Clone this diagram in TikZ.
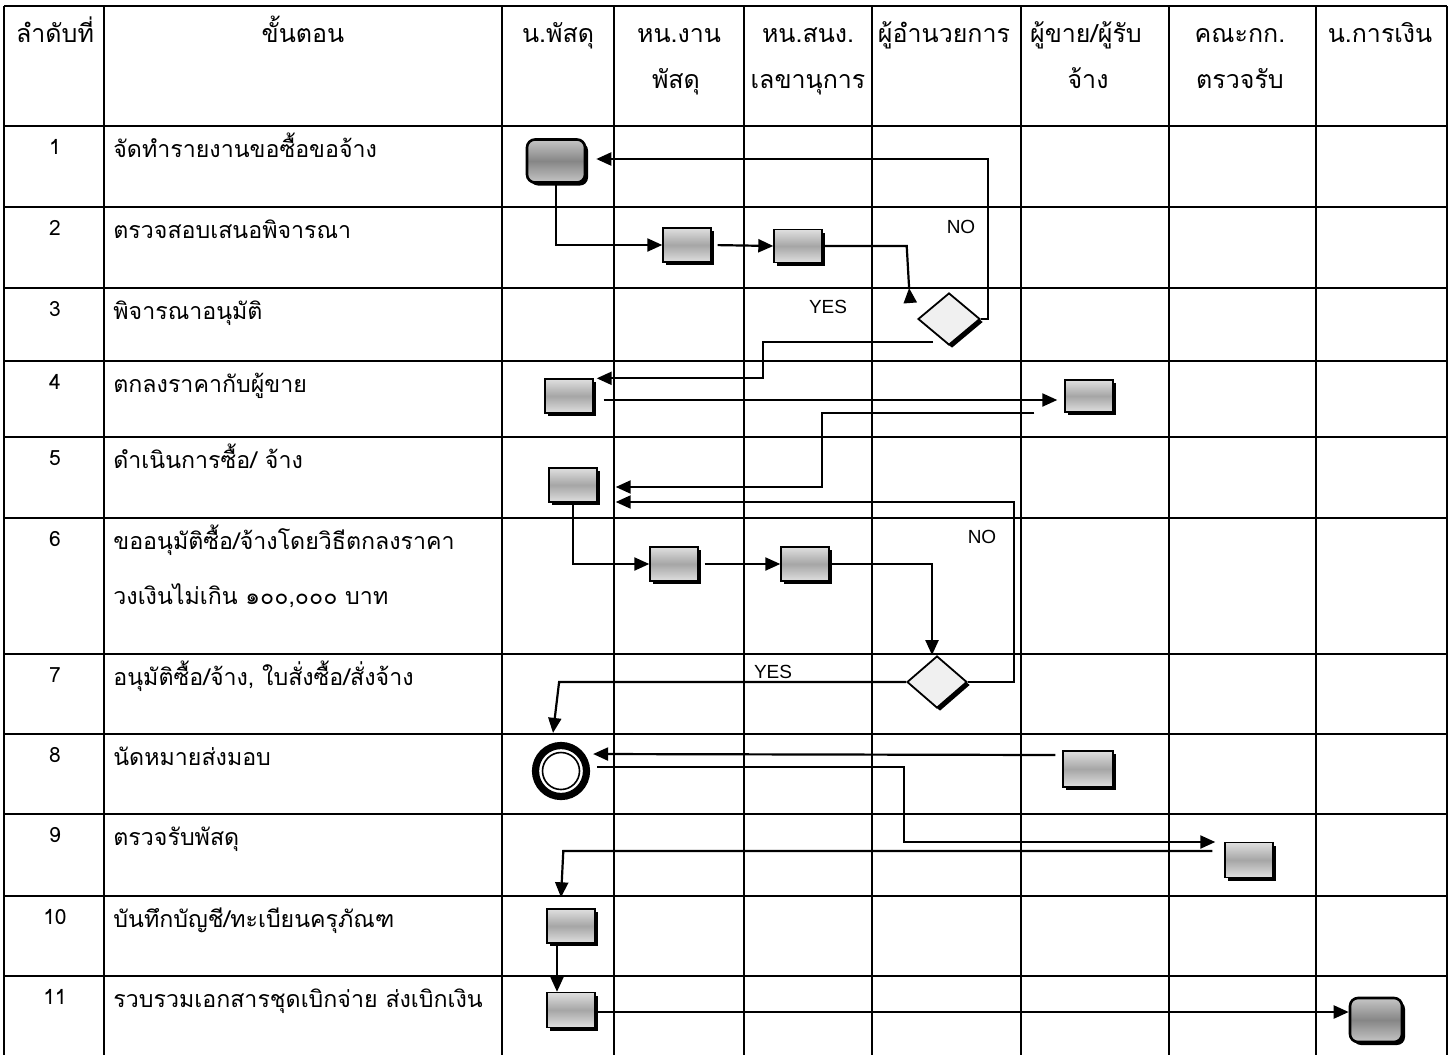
\documentclass[tikz,border=0pt]{standalone}
\usepackage{fontspec}
\setmainfont{Liberation Sans}
\newfontfamily\thaifont[Script=Thai]{Loma}
\usetikzlibrary{shapes.geometric, arrows.meta, positioning, calc, shadows}

\begin{document}
\begin{tikzpicture}[
    x=0.5pt, y=-0.5pt,
    grid/.style={line width=0.8pt},
    task/.style={draw, rectangle, line width=0.7pt, inner sep=0pt, minimum width=24pt, minimum height=17pt,
        top color=gray!25, bottom color=gray!25, middle color=gray!70,
        drop shadow={shadow xshift=1.5pt, shadow yshift=-1.5pt, fill=black, opacity=1}},
    term/.style={task, rounded corners=4pt, line width=1.3pt, top color=gray!45, bottom color=gray!45, middle color=gray!95},
    decision/.style={draw, diamond, line width=0.9pt, inner sep=0pt, minimum width=31pt, minimum height=26pt, fill=gray!12,
        drop shadow={shadow xshift=1.5pt, shadow yshift=-1.5pt, fill=black, opacity=1}},
    link/.style={line width=1.1pt},
    arrow/.style={link, -{Triangle[length=7.5pt, width=6.5pt]}},
    hdr/.style={font=\thaifont\fontsize{12.5}{14}\selectfont, anchor=base, inner sep=0pt},
    rowtext/.style={font=\thaifont\fontsize{11.6}{14}\selectfont, anchor=base west, inner sep=0pt},
    num/.style={font=\thaifont\fontsize{10.5}{12}\selectfont, anchor=base, inner sep=0pt},
    lbl/.style={font=\fontsize{9.5}{11}\selectfont, inner sep=0pt}
]
\useasboundingbox (0,0) rectangle (1450,1055);

% Table
\foreach \x in {4,104,502,614,744,872,1021,1169,1316,1447}
    \draw[grid] (\x,6) -- (\x,1055);
\foreach \y in {6,126,207,288,361,437,518,654,734,814,896,976}
    \draw[grid] (4,\y) -- (1447,\y);

% Header
\node[hdr] (h1) at (55,42) {ลำดับที่};
\node[hdr] (h2) at (303,42) {ขั้นตอน};
\node[hdr] (h3) at (558,42) {น.พัสดุ};
\node[hdr] (h4) at (679,42) {หน.งาน};
\node[hdr] (h4b) at (676,88) {พัสดุ};
\node[hdr] (h5) at (808,42) {หน.สนง.};
\node[hdr] (h5b) at (808,88) {เลขานุการ};
\node[hdr] (h6) at (944,42) {ผู้อำนวยการ};
\node[hdr] (h7) at (1086,42) {ผู้ขาย/ผู้รับ};
\node[hdr] (h7b) at (1088,88) {จ้าง};
\node[hdr] (h8) at (1240,42) {คณะกก.};
\node[hdr] (h8b) at (1240,88) {ตรวจรับ};
\node[hdr] (h9) at (1380,42) {น.การเงิน};

% Steps
\foreach \n/\ry/\txt in {1/126/{จัดทำรายงานขอซื้อขอจ้าง}, 2/207/{ตรวจสอบเสนอพิจารณา},
    3/288/{พิจารณาอนุมัติ}, 4/361/{ตกลงราคากับผู้ขาย}, 5/437/{ดำเนินการซื้อ/ จ้าง},
    6/518/{ขออนุมัติซื้อ/จ้างโดยวิธีตกลงราคา}, 7/654/{อนุมัติซื้อ/จ้าง, ใบสั่งซื้อ/สั่งจ้าง},
    8/734/{นัดหมายส่งมอบ}, 9/814/{ตรวจรับพัสดุ}, 10/896/{บันทึกบัญชี/ทะเบียนครุภัณฑ},
    11/976/{รวบรวมเอกสารชุดเบิกจ่าย ส่งเบิกเงิน}} {
    \node[num] (n\n) at (55,\ry+28) {\n};
    \node[rowtext] (s\n) at (113,\ry+31) {\txt};
}
\node[rowtext] (s6b) at (113,604) {วงเงินไม่เกิน ๑๐๐,๐๐๐ บาท};

% Nodes
\node (report) [term, minimum width=29pt, minimum height=21.5pt] at (556,161) {};
\node (chk1) [task] at (687,245) {};
\node (chk2) [task, minimum height=16.5pt] at (798,246) {};
\node (approve1) [decision] at (949,319) {};
\node (deal) [task] at (569,396) {};
\node (vendor) [task, minimum height=16pt] at (1089,396) {};
\node (buy) [task] at (573,485) {};
\node (req1) [task] at (674,564) {};
\node (req2) [task] at (805,564) {};
\node (approve2) [decision, minimum width=30pt] at (937,682) {};
\node (meet) [circle, draw, line width=3.6pt, inner sep=0pt, minimum size=25.5pt] at (561,771) {};
\draw[line width=0.8pt] (meet.center) circle[radius=9.25pt];
\node (supply) [task, minimum width=25pt, minimum height=18pt] at (1088,769) {};
\node (inspect) [task, minimum height=17.5pt] at (1249,860) {};
\node (record) [task] at (571,926) {};
\node (collect) [task, minimum height=17.5pt] at (571,1010) {};
\node (finance) [term, minimum width=26pt, minimum height=22pt] at (1376,1020) {};
\coordinate (into1) at ($(approve1.west)+(-8,-31)$);

% Labels
\node[lbl] (no1) at (961,227) {NO};
\node[lbl] (yes1) at (828,307) {YES};
\node[lbl] (no2) at (982,537) {NO};
\node[lbl] (yes2) at (773,672) {YES};

% Links
\draw[arrow] (report.south) |- (chk1.west);
\draw[arrow, shorten <=3pt] (chk1.east) -- (chk2.west);
\draw[link] (chk2.east) -- ++(84,0) -- (into1);
\draw[arrow] ($(into1)+(1,13)$) -- (into1);
\draw[arrow, shorten >=5pt] (approve1.east) -- ++(7,0) |- ($(report.east)+(0,-2)$);
\draw[arrow] ($(approve1.south)+(-16,-4)$) -- ++(-170,0) |- ($(deal.north east)+(3,0)$);
\draw[arrow] ($(deal.east)+(10,4)$) -- ($(vendor.west)+(-7,4)$);
\draw[arrow] ($(vendor.south west)+(-30,0)$) -- ++(-212,0) |- ($(buy.east)+(18,2)$);
\draw[arrow] (approve2.east) -- ++(46,0) |- ($(buy.east)+(18,17)$);
\draw[arrow] (buy.south) |- (req1.west);
\draw[arrow, shorten <=3pt] (req1.east) -- (req2.west);
\draw[arrow] (req2.east) -| ($(approve2.north)+(-5,0)$);
\draw[arrow] (approve2.west) -- ++(-347,0) -- ($(meet.north)+(-8,-9)$);
\draw[arrow] ($(supply.west)+(-7,-14)$) -- ($(meet.east)+(3,-17)$);
\draw[arrow] ($(meet.east)+(7,-4)$) -- ++(307,0) |- ($(inspect.west)+(-9,-18)$);
\draw[arrow] ($(inspect.west)+(-12,-9)$) -- ++(-649,0) -- ($(record.north)+(-10,-11)$);
\draw[arrow] ($(record.south)+(-14,0)$) -- ($(collect.north)+(-14,0)$);
\draw[arrow] ($(collect.east)+(0,2)$) -- ($(finance.west)+(0,-8)$);

\end{tikzpicture}
\end{document}
